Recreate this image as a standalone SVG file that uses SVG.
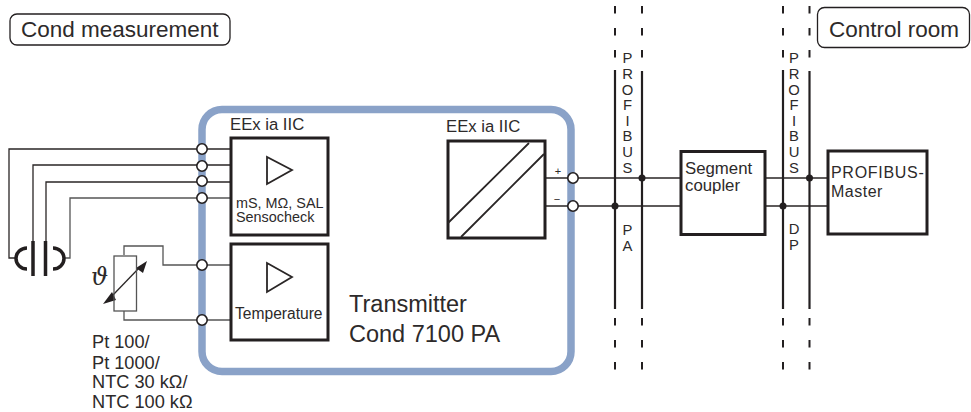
<svg xmlns="http://www.w3.org/2000/svg" width="971" height="412" viewBox="0 0 971 412">
<style>
text{font-family:"Liberation Sans",Arial,sans-serif;fill:#2d2a2a}
.w{fill:none;stroke:#2a2626;stroke-width:1.3}
.g{fill:none;stroke:#555;stroke-width:1.3}
.box{fill:#fff;stroke:#231f20;stroke-width:3}
.c{fill:#fff;stroke:#231f20;stroke-width:1.6}
.d{fill:#231f20}
.bus{fill:none;stroke:#231f20;stroke-width:2.2}
.dash{fill:none;stroke:#231f20;stroke-width:2;stroke-dasharray:7.500 14.500}
.room{fill:#fff;stroke:#231f20;stroke-width:1.300}
.plate{fill:none;stroke:#231f20;stroke-width:3.500}
.v{font-size:14.800px;text-anchor:middle}
.t22{font-size:22.500px}.t17{font-size:16.700px}.t18{font-size:18.200px}.t23{font-size:23.500px}
</style>
<g id="frame"><rect x="202" y="109.500" width="369" height="262" rx="20" fill="none" stroke="#8aa2c8" stroke-width="7.500"/></g>
<g id="connectors">
<path class="w" d="M230 149H9V258H15"/>
<path class="w" d="M230 165H33V242"/>
<path class="w" d="M230 182H46V242"/>
<path class="g" d="M230 198H70V258H64"/>
<path class="g" d="M124 255V246H163V265H230"/>
<path class="g" d="M124 311V320H230"/>
<path class="w" d="M545 178H681M545 206H681M765 178H828M765 206H828"/>
<path class="w" d="M112 296L140 267"/>
<polygon class="d" points="103,304 112,292 116,300"/>
<polygon class="d" points="147,261 136,268 143,273"/>
<path class="bus" d="M615 70V309"/><path class="bus" d="M642 71V309"/>
<path class="bus" d="M783 70V309"/><path class="bus" d="M809.500 71V309"/>
<path class="dash" d="M615 6V62M615 318V372M642 6V62M642 318V372M783 6V62M783 318V372M809.500 6V62M809.500 318V372"/>
<circle class="d" cx="642" cy="178" r="3.500"/><circle class="d" cx="615" cy="206" r="3.500"/>
<circle class="d" cx="809.500" cy="178" r="3.500"/><circle class="d" cx="783" cy="206" r="3.500"/>
<circle class="c" cx="202" cy="149" r="5.200"/><circle class="c" cx="202" cy="166" r="5.200"/><circle class="c" cx="202" cy="181" r="5.200"/><circle class="c" cx="202" cy="198" r="5.200"/>
<circle class="c" cx="202" cy="265" r="5.200"/><circle class="c" cx="202" cy="320" r="5.200"/>
<circle class="c" cx="573" cy="178" r="5.200"/><circle class="c" cx="573" cy="206" r="5.200"/>
</g>
<g id="sensor">
<path class="plate" d="M27 248A11 10.500 0 0 0 27 269"/>
<path class="plate" d="M53 248A11 10.500 0 0 1 53 269"/>
<path class="plate" d="M33 241V276M45.500 241V276"/>
</g>
<g id="rtd">
<rect x="114" y="256" width="22.500" height="55" fill="none" stroke="#555" stroke-width="1.300"/>
<text x="91" y="285" style="font-family:'DejaVu Serif',serif;font-style:italic;font-size:24px">ϑ</text>
</g>
<g id="rtd-labels" class="t18">
<text x="92" y="348">Pt 100/</text><text x="92" y="368.500">Pt 1000/</text><text x="92" y="388">NTC 30 kΩ/</text><text x="92" y="407.500">NTC 100 kΩ</text>
</g>
<g id="cond-label"><rect x="10" y="14" width="220" height="31" rx="7" class="room"/><text x="21" y="37" class="t22">Cond measurement</text></g>
<g id="control-label"><rect x="817.500" y="7.500" width="152" height="40" rx="7" class="room"/><text x="829" y="36.500" class="t22">Control room</text></g>
<g id="cond-block">
<text x="230" y="130" class="t17">EEx ia IIC</text>
<rect x="231" y="138" width="97" height="97" class="box"/>
<polygon points="267,157 267,184 292,170" fill="#fff" stroke="#2a2626" stroke-width="1.800"/>
<text x="236" y="208" font-size="14.400">mS, MΩ, SAL</text><text x="236" y="221.500" font-size="14.400">Sensocheck</text>
</g>
<g id="temp-block">
<rect x="231" y="244" width="97" height="96" class="box"/>
<polygon points="267,263 267,292 292,277" fill="#fff" stroke="#2a2626" stroke-width="1.800"/>
<text x="235" y="319" font-size="15.600">Temperature</text>
</g>
<g id="barrier">
<text x="446" y="132" class="t17">EEx ia IIC</text>
<rect x="448" y="141" width="97" height="97" class="box"/>
<path class="w" d="M448 223L529 143M461 237L544 154" style="stroke-width:1.800"/>
<text x="558" y="175" font-size="11" text-anchor="middle">+</text><text x="557" y="203" font-size="11" text-anchor="middle">−</text>
</g>
<g id="transmitter-label"><text x="349" y="312" class="t23">Transmitter</text><text x="349" y="342" class="t23">Cond 7100 PA</text></g>
<g id="segment-coupler"><rect x="681" y="151.500" width="84" height="83" class="box"/><text x="685" y="174" font-size="16.800">Segment</text><text x="685" y="191" font-size="16.800">coupler</text></g>
<g id="master"><rect x="828" y="151" width="99" height="83" class="box"/><text x="831" y="178" font-size="16" letter-spacing=".7">PROFIBUS-</text><text x="831" y="197" font-size="16" letter-spacing=".5">Master</text></g>
<g id="bus-labels" class="v">
<text x="627.500" y="63">P</text><text x="627.500" y="79">R</text><text x="627.500" y="94.500">O</text><text x="627.500" y="110">F</text><text x="627.500" y="125.500">I</text><text x="627.500" y="141">B</text><text x="627.500" y="157">U</text><text x="627.500" y="173">S</text>
<text x="627.500" y="235">P</text><text x="627.500" y="251">A</text>
<text x="794" y="63">P</text><text x="794" y="79">R</text><text x="794" y="94.500">O</text><text x="794" y="110">F</text><text x="794" y="125.500">I</text><text x="794" y="141">B</text><text x="794" y="157">U</text><text x="794" y="173">S</text>
<text x="794" y="234">D</text><text x="794" y="250">P</text>
</g>
</svg>
